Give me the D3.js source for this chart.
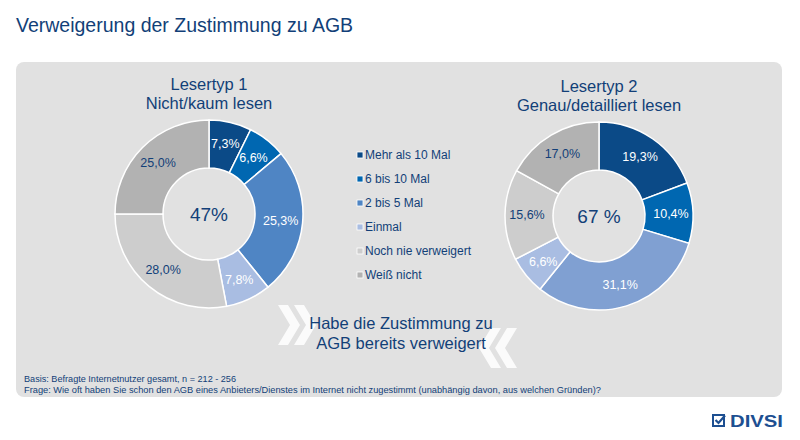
<!DOCTYPE html>
<html>
<head>
<meta charset="UTF-8">
<title>Verweigerung der Zustimmung zu AGB</title>
<script src="https://d3js.org/d3.v7.min.js"></script>
<style>
  body { margin: 0; background: #fff; }
  text { font-family: "Liberation Sans", Arial, sans-serif; }
</style>
</head>
<body>
<script>
var w = 800, h = 440;

var categories = ["Mehr als 10 Mal", "6 bis 10 Mal", "2 bis 5 Mal", "Einmal", "Noch nie verweigert", "Weiß nicht"];
var lesertyp1 = [7.3, 6.6, 25.3, 7.8, 28.0, 25.0];
var lesertyp2 = [19.3, 10.4, 31.1, 6.6, 15.6, 17.0];
var titles1 = ["Lesertyp 1", "Nicht/kaum lesen"];
var titles2 = ["Lesertyp 2", "Genau/detailliert lesen"];
var center1 = "47%";
var center2 = "67 %";

var navy = "#123f78";
var colors1 = ["#0b4a87", "#0067b1", "#4f85c4", "#a9bde2", "#cdcdcd", "#b2b2b2"];
var colors2 = ["#0b4a87", "#0067b1", "#80a0d2", "#a9bde2", "#cdcdcd", "#b2b2b2"];
var labelColors = ["#fff", "#fff", "#fff", "#fff", navy, navy];

var svg = d3.select("body").append("svg")
    .attr("width", w)
    .attr("height", h);

svg.append("text")
    .attr("x", 16)
    .attr("y", 32)
    .attr("font-size", 19.5)
    .attr("fill", navy)
    .text("Verweigerung der Zustimmung zu AGB");

svg.append("rect")
    .attr("x", 16).attr("y", 62)
    .attr("width", 766).attr("height", 335)
    .attr("rx", 8)
    .attr("fill", "#e1e1e1");

var pie = d3.pie().sort(null).value(function (d) { return d; });
var arc = d3.arc().innerRadius(46).outerRadius(94);
var labelArc = d3.arc().innerRadius(72).outerRadius(72);
var fmt = function (v) { return v.toFixed(1).replace(".", ",") + "%"; };

function donut(cx, cy, values, colors, titles, centerText) {
    var g = svg.append("g").attr("transform", "translate(" + cx + "," + cy + ")");
    var arcs = pie(values);

    g.selectAll("path")
        .data(arcs)
        .enter()
        .append("path")
        .attr("d", arc)
        .attr("fill", function (d, i) { return colors[i]; })
        .attr("stroke", "#fff")
        .attr("stroke-width", 1.5);

    g.selectAll("text.lbl")
        .data(arcs)
        .enter()
        .append("text")
        .attr("class", "lbl")
        .attr("transform", function (d) { return "translate(" + labelArc.centroid(d) + ")"; })
        .attr("text-anchor", "middle")
        .attr("dy", "0.35em")
        .attr("font-size", 12.5)
        .attr("fill", function (d, i) { return labelColors[i]; })
        .text(function (d) { return fmt(d.data); });

    g.append("text")
        .attr("text-anchor", "middle")
        .attr("dy", "0.35em")
        .attr("font-size", 19)
        .attr("fill", navy)
        .text(centerText);

    g.selectAll("text.ttl")
        .data(titles)
        .enter()
        .append("text")
        .attr("class", "ttl")
        .attr("text-anchor", "middle")
        .attr("y", function (d, i) { return -124 + i * 19; })
        .attr("font-size", 16.5)
        .attr("fill", navy)
        .text(function (d) { return d; });
}

donut(209, 214, lesertyp1, colors1, titles1, center1);
donut(599, 216, lesertyp2, colors2, titles2, center2);

// legend
var legendY = d3.scaleBand().domain(categories).range([143, 287]);
var legend = svg.append("g");
legend.selectAll("rect")
    .data(categories)
    .enter()
    .append("rect")
    .attr("x", 357)
    .attr("y", function (d) { return legendY(d) + legendY.bandwidth() / 2 - 3; })
    .attr("width", 6).attr("height", 6)
    .attr("fill", function (d, i) { return colors1[i]; })
    .attr("stroke", "#fff")
    .attr("stroke-width", 0.8);
legend.selectAll("text")
    .data(categories)
    .enter()
    .append("text")
    .attr("x", 365)
    .attr("y", function (d) { return legendY(d) + legendY.bandwidth() / 2; })
    .attr("dy", "0.35em")
    .attr("font-size", 12)
    .attr("fill", navy)
    .text(function (d) { return d; });

// chevrons
function chevron(x, y, dir) {
    var pts = dir > 0
        ? [[0, 0], [10, 0], [22, 20], [10, 40], [0, 40], [12, 20]]
        : [[22, 0], [12, 0], [0, 20], [12, 40], [22, 40], [10, 20]];
    svg.append("polygon")
        .attr("points", pts.map(function (p) { return (x + p[0]) + "," + (y + p[1]); }).join(" "))
        .attr("fill", "#fff")
        .attr("opacity", 0.85);
}
chevron(278, 305, 1);
chevron(294, 305, 1);
chevron(479, 328, -1);
chevron(495, 328, -1);

var centerLines = ["Habe die Zustimmung zu", "AGB bereits verweigert"];
svg.selectAll("text.mid")
    .data(centerLines)
    .enter()
    .append("text")
    .attr("class", "mid")
    .attr("x", 401)
    .attr("y", function (d, i) { return 329 + i * 20; })
    .attr("text-anchor", "middle")
    .attr("font-size", 16.5)
    .attr("fill", navy)
    .text(function (d) { return d; });

var notes = [
    "Basis: Befragte Internetnutzer gesamt, n = 212 - 256",
    "Frage: Wie oft haben Sie schon den AGB eines Anbieters/Dienstes im Internet nicht zugestimmt (unabhängig davon, aus welchen Gründen)?"
];
svg.selectAll("text.note")
    .data(notes)
    .enter()
    .append("text")
    .attr("class", "note")
    .attr("x", 24)
    .attr("y", function (d, i) { return 382 + i * 11; })
    .attr("font-size", 9)
    .attr("fill", navy)
    .attr("textLength", function (d, i) { return i === 0 ? 212 : 577; })
    .attr("lengthAdjust", "spacingAndGlyphs")
    .text(function (d) { return d; });

// logo
var logo = svg.append("g").attr("transform", "translate(712,414)");
logo.append("path")
    .attr("d", "M1,1 H12 V12 H1 Z")
    .attr("fill", "none")
    .attr("stroke", "#1d4f91")
    .attr("stroke-width", 2);
logo.append("path")
    .attr("d", "M3.5,6 L6.5,9 L13,1.5")
    .attr("fill", "none")
    .attr("stroke", "#1d4f91")
    .attr("stroke-width", 2.2);
logo.append("text")
    .attr("x", 18)
    .attr("y", 13)
    .attr("font-size", 17)
    .attr("font-weight", "bold")
    .attr("fill", "#1d4f91")
    .attr("textLength", 53)
    .attr("lengthAdjust", "spacingAndGlyphs")
    .text("DIVSI");
</script>
</body>
</html>
